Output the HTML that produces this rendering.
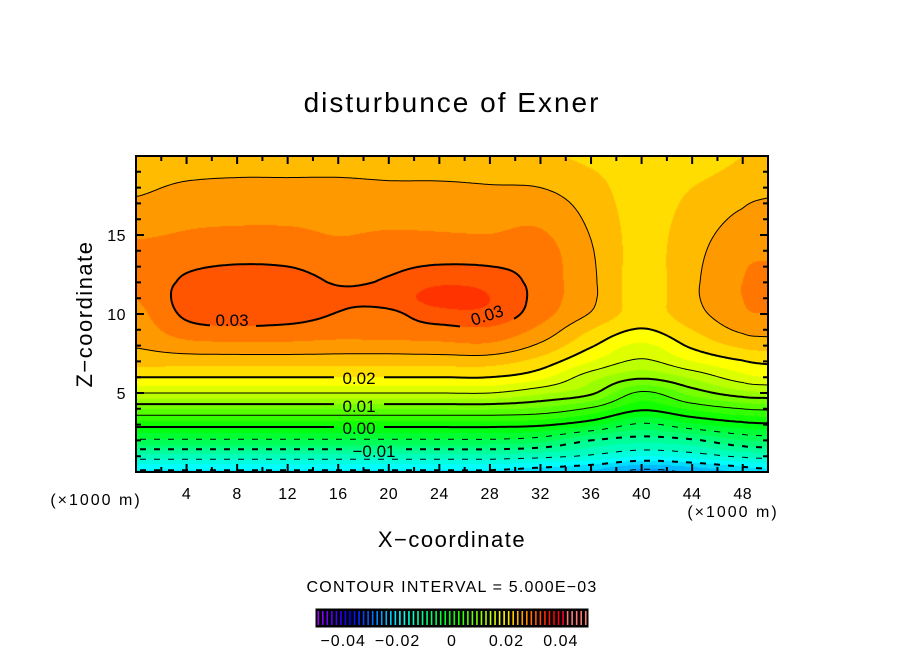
<!DOCTYPE html>
<html><head><meta charset="utf-8">
<style>
body{margin:0;background:#fff;width:904px;height:654px;overflow:hidden;font-family:"Liberation Sans",sans-serif;}
#wrap{position:relative;width:904px;height:654px;}
canvas,svg{position:absolute;left:0;top:0;}
</style></head>
<body>
<div id="wrap">
<canvas id="cv" width="904" height="654"></canvas>
<svg id="sv" width="904" height="654"></svg>
</div>
<script>
// ---- data ----
const xCoords = [0,4,8,12,16,20,24,28,32,36,40,44,48,50];
const zCoords = [0,1,2,3,4,5,6,7,8,9,10,11,12,14,16,18,20];
const base = [-0.0205,-0.0135,-0.0055,0.001,0.0078,0.015,0.02,0.0235];
const col0  = base.concat([0.0252,0.0262,0.0268,0.0275,0.0278,0.028,0.0262,0.0245,0.0225]);
const col4  = base.concat([0.0265,0.029,0.0305,0.031,0.0305,0.0285,0.027,0.0255,0.023]);
const col8  = base.concat([0.0268,0.0295,0.0312,0.032,0.0315,0.0288,0.0272,0.0258,0.0233]);
const col12 = base.concat([0.0268,0.0293,0.031,0.0318,0.0312,0.0287,0.0272,0.0258,0.0233]);
const col16 = base.concat([0.0265,0.0288,0.0299,0.0303,0.0298,0.028,0.027,0.0258,0.0233]);
const col20 = base.concat([0.0265,0.029,0.0295,0.031,0.0303,0.0285,0.027,0.0255,0.0232]);
const col24 = base.concat([0.0268,0.0292,0.0315,0.0335,0.032,0.0285,0.027,0.0255,0.023]);
const col28 = base.concat([0.027,0.0295,0.0318,0.0325,0.0315,0.0285,0.0268,0.0252,0.023]);
const col32 = [-0.0215,-0.0142,-0.0065,0.0005,0.007,0.013,0.0182,0.0215,0.0245,0.0268,0.0285,0.029,0.029,0.0285,0.027,0.025,0.0228];
const col36 = [-0.023,-0.0155,-0.01,-0.0018,0.0045,0.0105,0.0135,0.0175,0.0203,0.0225,0.0248,0.0255,0.0255,0.0252,0.0245,0.0235,0.022];
const col40 = [-0.026,-0.0175,-0.0115,-0.0055,0.0005,0.0045,0.0105,0.0145,0.017,0.0198,0.0215,0.0214,0.0214,0.0216,0.0215,0.0211,0.0207];
const col44 = [-0.0245,-0.0165,-0.0105,-0.003,0.003,0.0085,0.013,0.0175,0.0205,0.0225,0.024,0.0245,0.0245,0.0242,0.0235,0.0225,0.021];
const col48 = [-0.022,-0.0145,-0.0075,-0.001,0.005,0.0115,0.0165,0.0198,0.023,0.0255,0.027,0.0275,0.0275,0.0268,0.0255,0.024,0.0225];
const col50 = [-0.021,-0.014,-0.007,-0.0005,0.0055,0.012,0.0175,0.0205,0.0235,0.026,0.0275,0.028,0.028,0.0272,0.026,0.0245,0.023];
const columns = [col0,col4,col8,col12,col16,col20,col24,col28,col32,col36,col40,col44,col48,col50];
const xTicks = [4,8,12,16,20,24,28,32,36,40,44,48];
const zTicks = [5,10,15];
const cbTicks = [-0.04,-0.02,0,0.02,0.04];
const cbLabels = ["\u22120.04","\u22120.02","0","0.02","0.04"];

// ---- geometry ----
const L=136,R=768,T=156,B=472, X0=0,X1=50,Z0=0,Z1=20;
const sx = x => L + (x-X0)/(X1-X0)*(R-L);
const sz = z => B - (z-Z0)/(Z1-Z0)*(B-T);
const ix = px => X0 + (px-L)/(R-L)*(X1-X0);
const iz = py => Z0 + (B-py)/(B-T)*(Z1-Z0);
function seg(arr,v){let i=0;while(i<arr.length-2&&v>arr[i+1])i++;let t=(v-arr[i])/(arr[i+1]-arr[i]);return [i,Math.max(0,Math.min(1,t))];}
function cr(p0,p1,p2,p3,t){return 0.5*((2*p1)+(-p0+p2)*t+(2*p0-5*p1+4*p2-p3)*t*t+(-p0+3*p1-3*p2+p3)*t*t*t);}
function at(i,j){i=Math.max(0,Math.min(xCoords.length-1,i));j=Math.max(0,Math.min(zCoords.length-1,j));return columns[i][j];}
function field(x,z){
  const [i,tx]=seg(xCoords,x),[j,tz]=seg(zCoords,z);
  const rows=[];
  for(let dj=-1;dj<=2;dj++)rows.push(cr(at(i-1,j+dj),at(i,j+dj),at(i+1,j+dj),at(i+2,j+dj),tx));
  return cr(rows[0],rows[1],rows[2],rows[3],tz);
}
function hue(v){return 120-3200*v;}
function rgb(h){h=((h%360)+360)%360;const f=n=>{const k=(n+h/60)%6;return 255*(1-Math.max(0,Math.min(k,4-k,1)));};return [f(5),f(3),f(1)];}

// ---- fill ----
const cv=document.getElementById('cv'),ctx=cv.getContext('2d');
const img=ctx.createImageData(R-L,B-T);
for(let py=0;py<B-T;py++)for(let px=0;px<R-L;px++){
  let v=field(ix(L+px+0.5),iz(T+py+0.5));
  v=(Math.floor(v/0.0025)+0.5)*0.0025;
  const c=rgb(hue(v));const k=(py*(R-L)+px)*4;
  img.data[k]=c[0];img.data[k+1]=c[1];img.data[k+2]=c[2];img.data[k+3]=255;
}
ctx.putImageData(img,L,T);

// ---- contours ----
const NS='http://www.w3.org/2000/svg';
const sv=document.getElementById('sv');
function mk(tag,attrs,parent){const e=document.createElementNS(NS,tag);for(const k in attrs)e.setAttribute(k,attrs[k]);(parent||sv).appendChild(e);return e;}
const labelBoxes=[[210,308,256,330],[460,296,514,328],[334,368,384,386],[334,396,384,414],[334,418,384,436],[350,441,398,459]];
function inBox(x,y){return labelBoxes.some(b=>x>b[0]&&x<b[2]&&y>b[1]&&y<b[3]);}
const levels=[];for(let k=-5;k<=7;k++)levels.push(k*0.005);
const st=2,nx=Math.floor((R-L)/st),ny=Math.floor((B-T)/st);
const G=[];for(let j=0;j<=ny;j++){G[j]=[];for(let i=0;i<=nx;i++)G[j][i]=field(ix(L+i*st),iz(T+j*st));}
const cg=mk('g',{});


levels.forEach(lv=>{
  let d='';
  const thick=Math.abs(Math.round(lv*1000))%10===0;
  for(let j=0;j<ny;j++)for(let i=0;i<nx;i++){
    const p=[[i,j],[i+1,j],[i+1,j+1],[i,j+1]],vals=p.map(q=>G[q[1]][q[0]]);
    const pts=[];
    for(let e=0;e<4;e++){const a=vals[e],b=vals[(e+1)%4];if((a<lv)!==(b<lv)){const t=(lv-a)/(b-a);const A=p[e],Bq=p[(e+1)%4];pts.push([L+(A[0]+(Bq[0]-A[0])*t)*st,T+(A[1]+(Bq[1]-A[1])*t)*st]);}}
    for(let s=0;s+1<pts.length;s+=2){
      const mx=(pts[s][0]+pts[s+1][0])/2,my=(pts[s][1]+pts[s+1][1])/2;
      if(inBox(mx,my))continue;
      if(lv<-1e-9&&Math.floor(mx/7)%2===1)continue;
      d+=`M${pts[s][0].toFixed(1)} ${pts[s][1].toFixed(1)}L${pts[s+1][0].toFixed(1)} ${pts[s+1][1].toFixed(1)}`;
    }
  }
  const path=mk('path',{d:d,stroke:'#000','stroke-width':thick?2:1,fill:'none'},cg);
  
  
});
[["0.03",232,326,0],["0.03",487,321,-18],["0.02",359,384,0],["0.01",359,412,0],["0.00",359,434,0],["\u22120.01",374,457,0]].forEach(l=>{
  const t=mk('text',{x:l[1],y:l[2],'font-size':17,'text-anchor':'middle',transform:`rotate(${l[3]} ${l[1]} ${l[2]-6})`});
  t.textContent=l[0];
  
  
});

// ---- axes ----
const frame=mk('rect',{x:L,y:T,width:R-L,height:B-T,fill:'none',stroke:'#000','stroke-width':2});


let tk='';
for(let x=2;x<50;x+=2){const big=x%4===0,len=big?8:5;tk+=`M${sx(x)} ${B}v${-len}M${sx(x)} ${T}v${len}`;}
for(let z=1;z<20;z++){const big=z%5===0,len=big?8:5;tk+=`M${L} ${sz(z)}h${len}M${R} ${sz(z)}h${-len}`;}
const ticks=mk('path',{d:tk,stroke:'#000','stroke-width':2});


xTicks.forEach(x=>{const t=mk('text',{x:sx(x),y:B+27,'font-size':16,'text-anchor':'middle','letter-spacing':'0.5'});t.textContent=x;

});
zTicks.forEach(z=>{const t=mk('text',{x:L-10,y:sz(z)+6,'font-size':16,'text-anchor':'end','letter-spacing':'0.5'});t.textContent=z;

});
function txt(s,x,y,fs,name,extra){const t=mk('text',Object.assign({x:x,y:y,'font-size':fs,'text-anchor':'middle'},extra||{}));t.textContent=s;return t;}
txt('disturbunce of Exner',452,112,28,'chart-title',{'letter-spacing':'2'});
txt('X\u2212coordinate',452,547,22,'x-axis-title',{'letter-spacing':'1.5'});
txt('Z\u2212coordinate',92,314,22,'y-axis-title',{transform:'rotate(-90 92 314)','letter-spacing':'1.5'});
txt('(\u00d71000 m)',96,505,16,'x-unit-left',{'letter-spacing':'2'});
txt('(\u00d71000 m)',733,517,16,'x-unit-right',{'letter-spacing':'2'});
txt('CONTOUR INTERVAL = 5.000E\u221203',452,592,16,'contour-interval',{'letter-spacing':'1.2'});

// ---- colorbar ----
const cbL=316,cbR=588,cbT=609,cbB=627;
const cb=mk('g',{});


mk('rect',{x:cbL,y:cbT,width:cbR-cbL,height:cbB-cbT,fill:'#000',stroke:'#000','stroke-width':1},cb);
const cbx=v=>cbL+(v+0.05)/0.1*(cbR-cbL);
for(let k=0;k<60;k++){const v=-0.05+(k+0.5)*0.1/60;const c=rgb(hue(v));const cc=v>0.042?[255,120,120]:c;
  mk('line',{x1:cbx(v),x2:cbx(v),y1:cbT+2,y2:cbB-2,stroke:`rgb(${cc.map(Math.round).join(',')})`,'stroke-width':1.6},cb);}
cbTicks.forEach((v,i)=>{const t=mk('text',{x:cbx(v),y:646,'font-size':16,'text-anchor':'middle','letter-spacing':'1'},cb);t.textContent=cbLabels[i];

});
</script>
</body></html>
